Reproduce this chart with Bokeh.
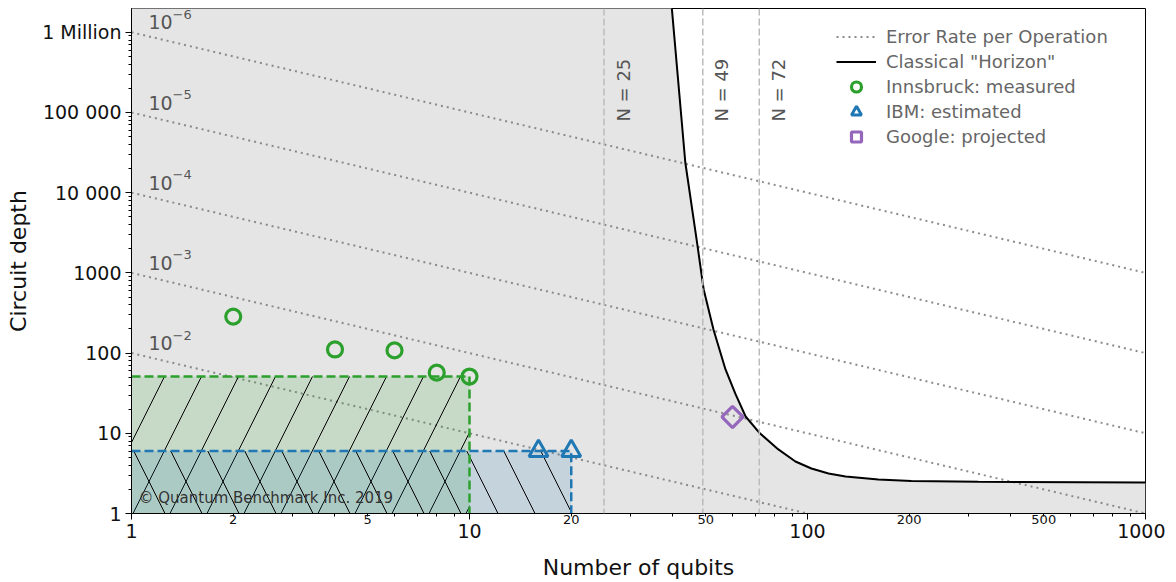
from math import pi
from bokeh.plotting import figure
from bokeh.models import (FixedTicker, Span, Label, Legend, LegendItem, Range1d, LogAxis)
from bokeh.core.properties import value
from bokeh.embed import file_html
from bokeh.resources import INLINE

# ---------------- data ----------------
error_rates = [1e-2, 1e-3, 1e-4, 1e-5, 1e-6]
error_exponents = ["−2", "−3", "−4", "−5", "−6"]

horizon_n = [39.5, 43.5, 47.3, 49.3, 52.7, 57.2, 61.2, 65.6, 72.3, 82, 92.1,
             102.7, 115.4, 129.6, 162, 203, 320, 1000]
horizon_d = [2.5e6, 23800, 2135, 621, 197, 62.5, 31, 16.2, 10, 6.3, 4.45,
             3.64, 3.15, 2.89, 2.65, 2.55, 2.48, 2.43]

innsbruck_n = [2, 4, 6, 8, 10]
innsbruck_d = [285, 111, 108, 57, 51]
ibm_n = [16, 20]
ibm_d = [6, 6]
google_n = [60]
google_d = [16]

innsbruck_box_n, innsbruck_box_d = 10, 51
ibm_box_n, ibm_box_d = 20, 6

n_lines = [25, 49, 72]
n_line_labels = ["N = 25", "N = 49", "N = 72"]

x_major = [1, 10, 100, 1000]
x_minor_labels = [2, 5, 20, 50, 200, 500]
y_major = [1, 10, 100, 1000, 10000, 100000, 1000000]
y_labels = ["1", "10", "100", "1000", "10 000", "100 000", "1 Million"]

FONT = "DejaVu Sans"
GREEN = "#2ca02c"
BLUE = "#1f77b4"
PURPLE = "#9467bd"

X_MIN, X_MAX = 1, 1000
Y_MIN, Y_MAX = 1, 1.98e6
PX_PER_DECADE_Y = 505 / 6.2967

p = figure(x_axis_type="log", y_axis_type="log",
           x_range=Range1d(X_MIN, X_MAX), y_range=Range1d(Y_MIN, Y_MAX),
           frame_width=1014, frame_height=505,
           min_border_left=131, min_border_right=20, min_border_top=8,
           min_border_bottom=68,
           output_backend="svg", toolbar_location=None,
           background_fill_color="white", border_fill_color="white")
p.xgrid.visible = False
p.ygrid.visible = False
p.outline_line_color = "black"
p.outline_line_width = 1
p.outline_line_alpha = 1

# gray region left of / below the classical horizon
region_x = [X_MIN] + horizon_n + [X_MAX, X_MAX, X_MIN]
region_y = [horizon_d[0]] + horizon_d + [horizon_d[-1], 0.5, 0.5]
p.patch(region_x, region_y, fill_color="#e5e5e5", line_color=None)

# error-rate lines
err_renderers = []
for eps in error_rates:
    r = p.line([X_MIN, X_MAX], [1 / (eps * X_MIN), 1 / (eps * X_MAX)],
               line_color="#7f7f7f", line_width=2, line_dash="2 4", line_alpha=0.9)
    err_renderers.append(r)
lab_x = 1.123
base_y = [1.33 / eps for eps in error_rates]
exp_y = [b * 10 ** (8 / PX_PER_DECADE_Y) for b in base_y]
p.text(x=[lab_x] * len(error_rates), y=base_y, text=["10"] * len(error_rates),
       text_font=value(FONT), text_font_size="19px",
       text_color="#555555", text_baseline="alphabetic", text_align="left")
p.text(x=[lab_x] * len(error_rates), y=exp_y, text=error_exponents, x_offset=24,
       text_font=value(FONT), text_font_size="13px",
       text_color="#555555", text_baseline="alphabetic", text_align="left")

# vertical N lines
for n in n_lines:
    p.add_layout(Span(location=n, dimension="height", line_color="#bbbbbb",
                      line_width=1.5, line_dash="7 3"))
p.text(x=n_lines, y=[1.9e5] * len(n_lines), text=n_line_labels,
       angle=pi / 2, x_offset=19, text_align="center", text_baseline="middle",
       text_font=value(FONT), text_font_size="18px", text_color="#555555")

# hatched boxes
p.quad(left=[X_MIN], right=[innsbruck_box_n], bottom=[0.5], top=[innsbruck_box_d],
       fill_color=GREEN, fill_alpha=0.16, line_color=None,
       hatch_pattern="/", hatch_color="black", hatch_scale=74, hatch_weight=1)
p.quad(left=[X_MIN], right=[ibm_box_n], bottom=[0.5], top=[ibm_box_d],
       fill_color=BLUE, fill_alpha=0.16, line_color=None,
       hatch_pattern="\\", hatch_color="black", hatch_scale=74, hatch_weight=1)
p.line([X_MIN, innsbruck_box_n, innsbruck_box_n], [innsbruck_box_d, innsbruck_box_d, 0.5],
       line_color=GREEN, line_width=2.5, line_dash="9 4")
p.line([X_MIN, ibm_box_n, ibm_box_n], [ibm_box_d, ibm_box_d, 0.5],
       line_color=BLUE, line_width=2.5, line_dash="9 4")

# classical horizon
hor = p.line(horizon_n, horizon_d, line_color="black", line_width=2)

# markers
inn = p.scatter(innsbruck_n, innsbruck_d, marker="circle", size=15,
                fill_color=None, line_color=GREEN, line_width=3.2)
ibm = p.scatter(ibm_n, ibm_d, marker="triangle", size=19,
                fill_color=None, line_color=BLUE, line_width=3)
goo = p.scatter(google_n, google_d, marker="square", angle=45, angle_units="deg",
                size=15, fill_color=None, line_color=PURPLE, line_width=3.2)

# copyright
p.add_layout(Label(x=1.049, y=1.58, text="© Quantum Benchmark Inc. 2019",
                   text_font=FONT, text_font_size="15px", text_color="#333333",
                   text_baseline="middle", text_align="left"))

# axes
p.xaxis.ticker = FixedTicker(ticks=x_major,
                             minor_ticks=[m * 10 ** k for k in range(3) for m in range(2, 10)])
p.xaxis.major_label_overrides = {v: str(v) for v in x_major}
p.yaxis.ticker = FixedTicker(ticks=y_major,
                             minor_ticks=[m * 10 ** k for k in range(7) for m in range(2, 10)])
p.yaxis.major_label_overrides = dict(zip(y_major, y_labels))

# second x axis carrying the small labels of the minor ticks
ax2 = LogAxis(ticker=FixedTicker(ticks=x_minor_labels),
              major_label_overrides={v: str(v) for v in x_minor_labels})
p.add_layout(ax2, "below")

for ax in (p.xaxis[0], p.yaxis[0], ax2):
    ax.major_label_text_font = FONT
    ax.major_label_text_font_size = "19px"
    ax.major_label_text_color = "#111111"
    ax.axis_label_text_font = FONT
    ax.axis_label_text_font_size = "22px"
    ax.axis_label_text_font_style = "normal"
    ax.axis_label_text_color = "#111111"
    ax.major_tick_out = 6
    ax.major_tick_in = 0
    ax.minor_tick_out = 3
    ax.minor_tick_in = 0
    ax.axis_line_color = "black"
    ax.major_tick_line_color = "black"
    ax.minor_tick_line_color = "black"
    ax.major_label_standoff = 4

ax2.major_label_text_font_size = "13px"
ax2.major_tick_out = 0
ax2.minor_tick_out = 0
ax2.axis_line_color = None
ax2.major_tick_line_color = None
ax2.minor_tick_line_color = None
ax2.major_label_standoff = -26
ax2.axis_label = "Number of qubits"
ax2.axis_label_standoff = 28
p.yaxis.axis_label = "Circuit depth"
p.yaxis.axis_label_standoff = 8

legend = Legend(items=[
    LegendItem(label="Error Rate per Operation", renderers=[err_renderers[0]]),
    LegendItem(label='Classical "Horizon"', renderers=[hor]),
    LegendItem(label="Innsbruck: measured", renderers=[inn]),
    LegendItem(label="IBM: estimated", renderers=[ibm]),
    LegendItem(label="Google: projected", renderers=[goo]),
], location=(705, 364))
legend.border_line_alpha = 0
legend.background_fill_alpha = 0
legend.padding = 0
legend.margin = 0
legend.spacing = 0
legend.glyph_width = 40
legend.glyph_height = 25
legend.label_height = 25
legend.label_standoff = 10
legend.label_text_font = FONT
legend.label_text_font_size = "18px"
legend.label_text_color = "#666666"
p.add_layout(legend)

open("out.html", "w").write(file_html(p, INLINE))
